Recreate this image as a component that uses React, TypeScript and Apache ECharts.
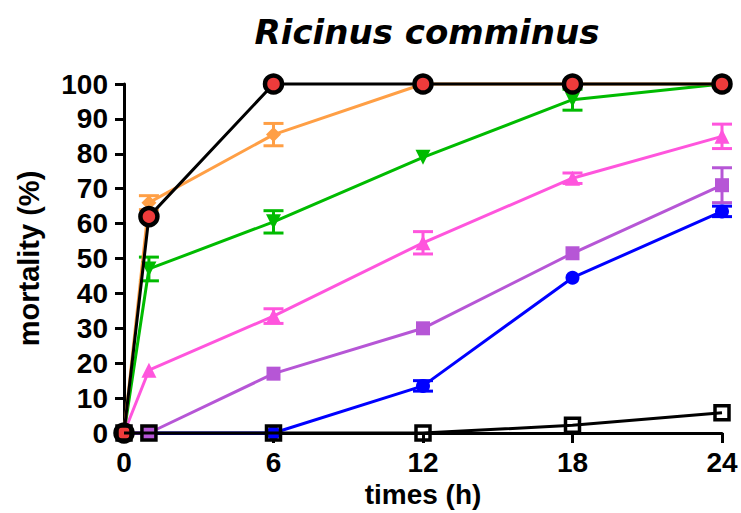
import React, { useEffect, useRef } from "react";
import * as echarts from "echarts";

const times = [0, 1, 6, 12, 18, 24];
const xTicks = [0, 6, 12, 18, 24];
const controlVals = [0, 62, 100, 100, 100, 100];
const orangeVals = [0, 66, 85.5, 100, 100, 100];
const orangeErr = [0, 2, 3.2, 0, 0, 0];
const greenVals = [0, 47, 60.5, 79, 95.5, 100];
const greenErr = [0, 3.4, 3.2, 0, 3, 0];
const pinkVals = [0, 18, 33.5, 54.5, 73, 85];
const pinkErr = [0, 0, 2.1, 3.2, 1.5, 3.5];
const purpleVals = [0, 0, 17, 30, 51.5, 71];
const purpleErr = [0, 0, 0, 0, 0, 5];
const blueVals = [0, 0, 0, 13.5, 44.5, 63.5];
const blueErr = [0, 0, 0, 1.5, 0, 1.5];
const openVals = [0, 0, 0, 0, 2.2, 5.8];

const FONT = "Arial, 'Liberation Sans', sans-serif";
const TITLE_FONT = "Verdana, 'DejaVu Sans', sans-serif";

function pairs(vals: number[]) {
  return times.map((t, i) => [t, vals[i]]);
}

function errSeries(vals: number[], errs: number[], color: string) {
  const data = times
    .map((t, i) => [t, vals[i], errs[i]])
    .filter((d) => d[2] > 0);
  return {
    type: "custom",
    z: 2,
    silent: true,
    clip: false,
    renderItem: (params: any, api: any) => {
      const x = api.value(0);
      const y = api.value(1);
      const e = api.value(2);
      const top = api.coord([x, y + e]);
      const bot = api.coord([x, y - e]);
      const hw = 10;
      const style = { stroke: color, lineWidth: 3 };
      return {
        type: "group",
        children: [
          { type: "line", shape: { x1: top[0], y1: top[1], x2: bot[0], y2: bot[1] }, style },
          { type: "line", shape: { x1: top[0] - hw, y1: top[1], x2: top[0] + hw, y2: top[1] }, style },
          { type: "line", shape: { x1: bot[0] - hw, y1: bot[1], x2: bot[0] + hw, y2: bot[1] }, style },
        ],
      };
    },
    data,
  };
}

function lineSeries(vals: number[], color: string, symbol: string, size: number, extra: any = {}) {
  return {
    type: "line",
    data: pairs(vals),
    symbol,
    symbolSize: size,
    showAllSymbol: true,
    clip: false,
    lineStyle: { color, width: 3 },
    itemStyle: { color, borderWidth: 0 },
    z: 3,
    ...extra,
  };
}

export default function App() {
  const ref = useRef<HTMLDivElement>(null);
  useEffect(() => {
    const chart = echarts.init(ref.current!, null, { renderer: "svg" });
    chart.setOption({
      animation: false,
      backgroundColor: "#ffffff",
      title: {
        text: "Ricinus comminus",
        left: 422,
        top: 10,
        textAlign: "center",
        textStyle: { fontFamily: TITLE_FONT, fontSize: 34, fontWeight: "bold", fontStyle: "italic", color: "#000" },
      },
      grid: { left: 124, right: 19, top: 84, bottom: 80, outerBoundsMode: "none", containLabel: false },
      xAxis: {
        type: "value",
        min: 0,
        max: 24,
        interval: 6,
        name: "times (h)",
        nameLocation: "middle",
        nameGap: 46,
        nameTextStyle: { fontFamily: FONT, fontSize: 28, fontWeight: "bold", color: "#000" },
        axisLine: { lineStyle: { color: "#000", width: 3 } },
        axisTick: { show: true, length: 10, lineStyle: { color: "#000", width: 3 } },
        axisLabel: {
          fontFamily: FONT, fontSize: 28, fontWeight: "bold", color: "#000", margin: 15,
          formatter: (v: number) => (xTicks.includes(v) ? String(v) : ""),
        },
        splitLine: { show: false },
      },
      yAxis: {
        type: "value",
        min: 0,
        max: 100,
        interval: 10,
        name: "mortality (%)",
        nameLocation: "middle",
        nameGap: 81,
        nameRotate: 90,
        nameTextStyle: { fontFamily: FONT, fontSize: 29, fontWeight: "bold", color: "#000" },
        axisLine: { show: true, lineStyle: { color: "#000", width: 3 } },
        axisTick: { show: true, length: 9, lineStyle: { color: "#000", width: 3 } },
        axisLabel: { fontFamily: FONT, fontSize: 28, fontWeight: "bold", color: "#000", margin: 16 },
        splitLine: { show: false },
      },
      series: [
        errSeries(orangeVals, orangeErr, "#ff9f45"),
        errSeries(greenVals, greenErr, "#00bb00"),
        errSeries(pinkVals, pinkErr, "#ff55dd"),
        errSeries(purpleVals, purpleErr, "#b656d6"),
        errSeries(blueVals, blueErr, "#0000ff"),
        lineSeries(blueVals, "#0000ff", "circle", 14),
        lineSeries(purpleVals, "#b656d6", "rect", 14),
        lineSeries(pinkVals, "#ff55dd", "triangle", 15),
        lineSeries(greenVals, "#00bb00", "triangle", 15, { symbolRotate: 180 }),
        lineSeries(orangeVals, "#ff9f45", "diamond", 15),
        lineSeries(controlVals, "#000000", "circle", 17, {
          z: 4,
          itemStyle: { color: "#ee3b3b", borderColor: "#000", borderWidth: 4.5 },
        }),
        lineSeries(openVals, "#000000", "rect", 14, {
          z: 5,
          itemStyle: { color: "rgba(0,0,0,0)", borderColor: "#000", borderWidth: 3.5 },
        }),
      ],
    });
    return () => chart.dispose();
  }, []);
  return (
    <div
      ref={ref}
      style={{ position: "fixed", left: 0, top: 0, width: 741, height: 513 }}
    />
  );
}
